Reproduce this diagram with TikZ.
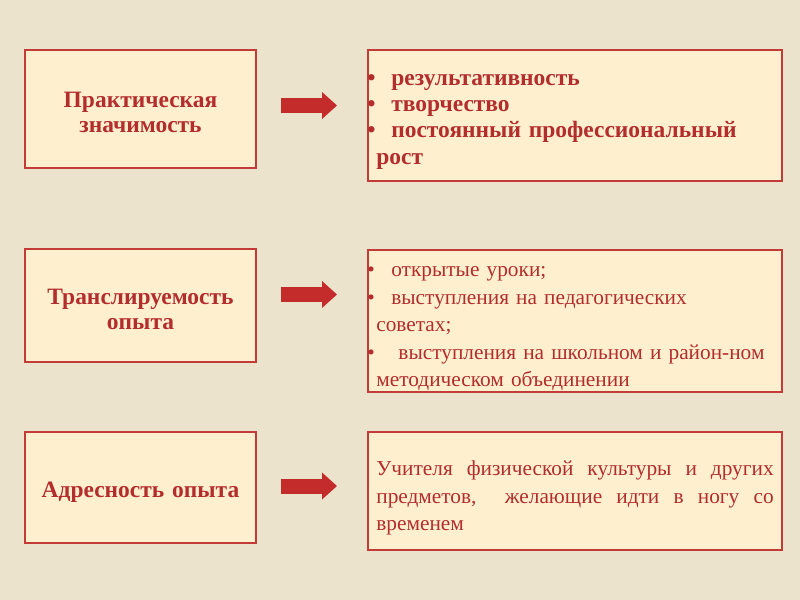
\documentclass[tikz,border=0pt]{standalone}
\usepackage{fontspec}
\setmainfont{Liberation Serif}
\usetikzlibrary{arrows.meta}
\definecolor{paper}{HTML}{ECE3CD}
\definecolor{cream}{HTML}{FEF0CE}
\definecolor{brick}{HTML}{C23B36}
\definecolor{wine}{HTML}{B32D2D}
\definecolor{flame}{HTML}{C42C2C}
\newcommand{\itm}{\hspace*{-6.75pt}\makebox[18pt][l]{•}}
\newcommand{\lift}[1]{\rule{0pt}{#1}}

\begin{document}
\begin{tikzpicture}[x=0.75pt,y=-0.75pt,
      lbox/.style={draw=brick,line width=1.5pt,fill=cream,text=wine,align=center,
        minimum width=173.25pt,text width=160pt,
        font=\bfseries\fontsize{17.6}{18.75}\selectfont},
      rbox/.style={draw=brick,line width=1.5pt,fill=cream,text=wine,align=left,
        minimum width=310.5pt,text width=298pt,inner ysep=0.5pt,
        font=\fontsize{16}{20.6}\selectfont},
      bigarrow/.style={draw=flame,line width=11.25pt,
        -{Triangle[length=11.25pt,width=20.25pt,line width=0pt]}}
    ]
      \fill[paper] (0,0) rectangle (800,600);
      % left column
      \node[lbox,minimum height=88.5pt] (practice) at (140.5,109) {\lift{17pt}Практическая\\значимость};
      \node[lbox,minimum height=84.75pt] (transfer) at (140.5,305.5) {\lift{17.6pt}Транслируемость\\опыта};
      \node[lbox,minimum height=83.25pt] (target) at (140.5,487.5) {\lift{19pt}Адресность опыта};
      % right column
      \node[rbox,minimum height=98.25pt,
        font=\bfseries\fontsize{17.6}{19.7}\selectfont] (result) at (575,115.5)
        {\itm\lift{17.5pt}результативность\\\itm творчество\\\itm постоянный профессиональный\\рост};
      \node[rbox,minimum height=106.5pt] (lessons) at (575,321)
        {\itm\lift{19pt}открытые уроки;\\\itm выступления на педагогических\\советах;\\
         \itm\ выступления на школьном и \mbox{район-ном}\\методическом объединении};
      \node[rbox,minimum height=88.5pt,align=justify] (teachers) at (575,491)
        {\lift{21.5pt}Учителя физической культуры и других\linebreak предметов,\ \ желающие идти в ногу со\linebreak временем};
      % arrows
      \draw[bigarrow] ([shift={(24,-3.5)}]practice.east) -- ([shift={(-30,-10)}]result.west);
      \draw[bigarrow] ([shift={(24,-11)}]transfer.east) -- ([shift={(-30,-26.5)}]lessons.west);
      \draw[bigarrow] ([shift={(24,-1.5)}]target.east) -- ([shift={(-30,-5)}]teachers.west);
    \end{tikzpicture}
\end{document}
